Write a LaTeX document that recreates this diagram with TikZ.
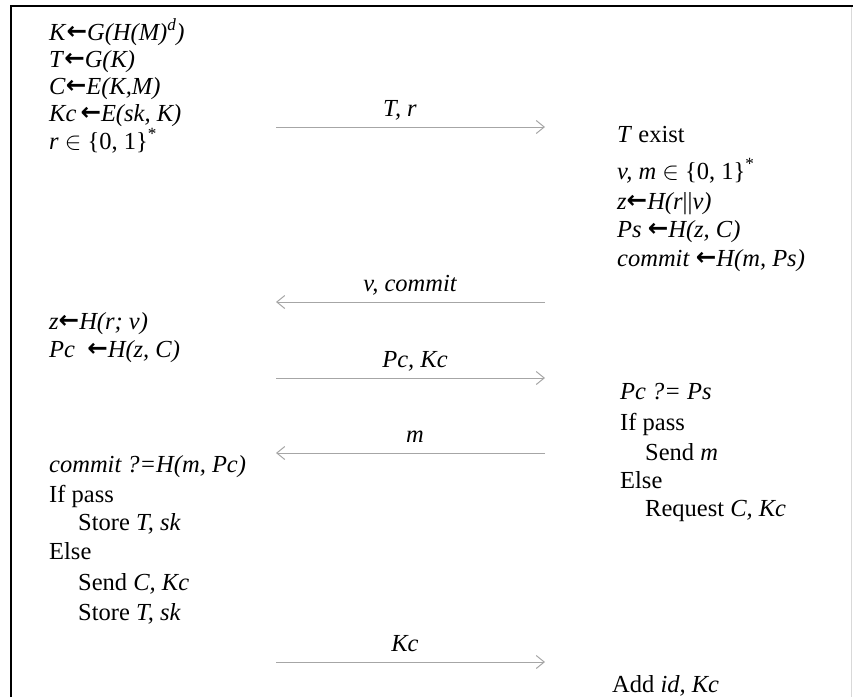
\documentclass[tikz,border=0pt]{standalone}
\usepackage{fontspec}
\setmainfont{Liberation Serif}
\newfontfamily\arrfont{DejaVu Sans}
\usetikzlibrary{arrows.meta}
\newcommand{\lar}{{\arrfont\bfseries\upshape\raisebox{0.5pt}{←}}}
\newcommand{\iv}[1]{\textit{#1}}
\begin{document}
\begin{tikzpicture}[x=1pt,y=-1pt,
  txt/.style={anchor=base west, inner sep=0pt, font=\fontsize{24.5}{28}\selectfont},
  lbl/.style={anchor=base, inner sep=0pt, font=\fontsize{24.5}{28}\selectfont\itshape},
  msg/.style={draw=black!35, line width=1pt, -{Straight Barb[length=8pt,width=13pt]}}]
\useasboundingbox (0,0) rectangle (853,697);
% frame
\draw[line width=2pt] (11,697) -- (11,6) -- (853,6);
\draw[black!15, line width=1pt] (851,7) -- (851,697);
% left block 1
\node[txt] (l1) at (49,40) {\iv{K}\lar\iv{G(H(M)\textsuperscript{d})}};
\node[txt] (l2) at (49,67) {\iv{T}\lar\iv{G(K)}};
\node[txt] (l3) at (49,94) {\iv{C}\lar\iv{E(K,M)}};
\node[txt] (l4) at (49,121) {\iv{Kc}\,\lar\iv{E(sk, K)}};
\node[txt] (l5) at (49,149) {\iv{r} $\in$ \{0, 1\}\textsuperscript{*}};
% right block 1
\node[txt] (r1) at (617,142) {\iv{T} exist};
\node[txt] (r2) at (617,179) {\iv{v, m} $\in$ \{0, 1\}\textsuperscript{*}};
\node[txt] (r3) at (617,209) {\iv{z}\lar\iv{H(r}||\iv{v)}};
\node[txt] (r4) at (617,237) {\iv{Ps} \lar\iv{H(z, C)}};
\node[txt] (r5) at (617,266) {\iv{commit} \lar\iv{H(m, Ps)}};
% left block 2
\node[txt] (l6) at (49,329) {\iv{z}\lar\iv{H(r; v)}};
\node[txt] (l7) at (49,357) {\iv{Pc} \ \lar\iv{H(z, C)}};
% right block 2
\node[txt] (r6) at (620,399) {\iv{Pc ?= Ps}};
\node[txt] (r7) at (620,430) {If pass};
\node[txt] (r8) at (645,460) {Send \iv{m}};
\node[txt] (r9) at (620,488) {Else};
\node[txt] (r10) at (645,516) {Request \iv{C, Kc}};
% left block 3
\node[txt] (l8) at (49,472) {\iv{commit ?=H(m, Pc)}};
\node[txt] (l9) at (49,502) {If pass};
\node[txt] (l10) at (78,530) {Store \iv{T, sk}};
\node[txt] (l11) at (49,559) {Else};
\node[txt] (l12) at (78,590) {Send \iv{C, Kc}};
\node[txt] (l13) at (78,620) {Store \iv{T, sk}};
% right block 3
\node[txt] (r11) at (612,692) {Add \iv{id, Kc}};
% messages
\coordinate (a1l) at (276,127); \coordinate (a1r) at (545,127);
\coordinate (a2l) at (276,302); \coordinate (a2r) at (545,302);
\coordinate (a3l) at (276,378); \coordinate (a3r) at (545,378);
\coordinate (a4l) at (276,453); \coordinate (a4r) at (545,453);
\coordinate (a5l) at (276,662); \coordinate (a5r) at (545,662);
\draw[msg] (a1l) -- (a1r);
\draw[msg] (a2r) -- (a2l);
\draw[msg] (a3l) -- (a3r);
\draw[msg] (a4r) -- (a4l);
\draw[msg] (a5l) -- (a5r);
\node[lbl] (m1) at (400,116) {T, r};
\node[lbl] (m2) at (410,291) {v, commit};
\node[lbl] (m3) at (415,367) {Pc, Kc};
\node[lbl] (m4) at (415,442) {m};
\node[lbl] (m5) at (405,651) {Kc};
\end{tikzpicture}
\end{document}
